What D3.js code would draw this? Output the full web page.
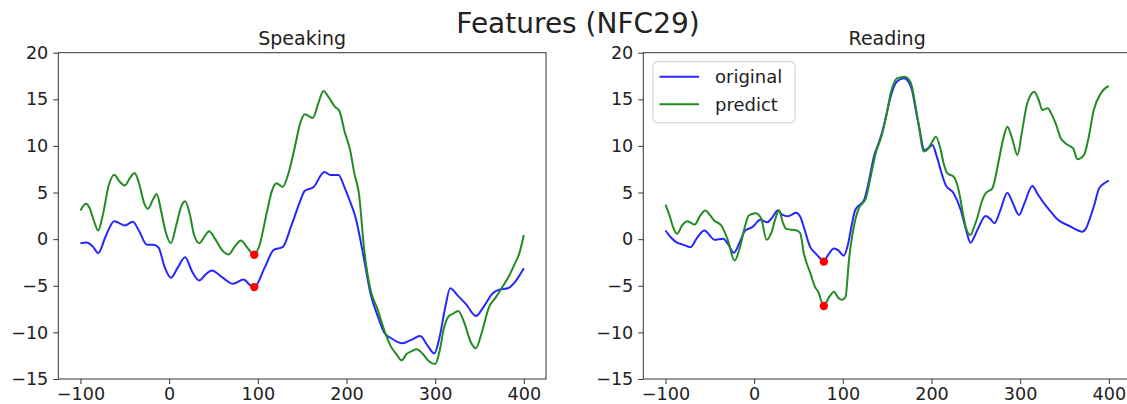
<!DOCTYPE html>
<html>
<head>
<meta charset="utf-8">
<script src="https://cdn.jsdelivr.net/npm/d3@7"></script>
<style>
  body { margin: 0; background: #fff; }
  svg text { font-family: "DejaVu Sans", sans-serif; fill: #222; }
</style>
</head>
<body>
<svg id="chart"></svg>
<script>
// values, [x, y]
const speakingOriginal = [
  [-100,-0.43],[-93,-0.36],[-86,-0.8],[-80,-1.5],[-72,0.2],[-62,1.93],[-56,1.7],[-50,1.46],
  [-41,1.86],[-34,0.9],[-25,-0.6],[-18,-0.6],[-12,-0.9],[-5,-3.0],[2,-4.14],[10,-3.0],
  [18,-1.93],[26,-3.5],[34,-4.43],[41,-3.8],[48,-3.36],[60,-4.1],[72,-4.79],[84,-4.32],
  [91,-4.9],[96,-5.14],[108,-3.0],[118,-1.14],[128,-0.86],[138,1.5],[148,4.14],[153,5.18],
  [163,5.6],[175,7.2],[182,6.88],[191,6.88],[198,5.5],[203,4.3],[210,2.4],[220,-2.24],
  [227,-5.8],[235,-8.2],[243,-10.1],[250,-10.6],[263,-11.17],[273,-10.8],[283,-10.4],
  [292,-11.5],[299,-12.25],[305,-10.5],[311,-7.5],[317,-5.27],[325,-6.0],[335,-7.0],
  [346,-8.24],[355,-7.2],[365,-5.8],[373,-5.4],[382,-5.27],[390,-4.6],[400,-3.13]
];
const speakingPredict = [
  [-100,3.07],[-94,3.8],[-90,3.4],[-85,2.0],[-80,0.93],[-75,2.5],[-68,5.8],[-62,6.9],
  [-56,6.2],[-50,5.75],[-44,6.6],[-39,7.1],[-34,6.0],[-28,3.8],[-24,3.25],[-18,4.3],
  [-14,4.85],[-9,3.0],[-4,0.8],[2,-0.43],[8,1.5],[14,3.6],[18,4.07],[23,2.8],[28,0.5],
  [34,-0.43],[40,0.3],[45,0.86],[52,0.0],[60,-1.2],[67,-1.64],[74,-0.8],[81,-0.14],
  [88,-0.9],[96,-1.68],[102,-0.6],[110,2.8],[116,5.2],[121,6.0],[128,5.6],[135,7.2],
  [142,10.0],[148,12.5],[153,13.4],[162,13.0],[168,14.5],[174,15.9],[180,15.2],[187,14.2],
  [192,13.75],[198,11.5],[204,9.6],[209,7.0],[214,4.9],[220,-1.16],[227,-5.4],[235,-7.5],
  [243,-9.9],[250,-11.5],[256,-12.3],[262,-13.0],[268,-12.3],[274,-12.0],[279,-11.8],
  [286,-12.3],[293,-13.1],[300,-13.4],[305,-12.0],[310,-9.5],[315,-8.3],[320,-8.0],
  [326,-7.7],[333,-9.0],[340,-11.0],[346,-11.7],[352,-10.2],[361,-7.24],[368,-6.3],
  [376,-5.1],[383,-4.0],[390,-2.6],[395,-1.5],[400,0.45]
];
const readingOriginal = [
  [-100,0.93],[-94,0.2],[-88,-0.32],[-80,-0.6],[-72,-0.86],[-64,0.2],[-56,0.93],[-50,0.4],
  [-45,-0.07],[-35,0.04],[-29,-0.6],[-23,-1.46],[-17,-0.5],[-10,0.93],[-2,1.29],[7,2.07],
  [15,1.82],[21,2.4],[26.5,3.07],[32,2.6],[38,2.46],[47,2.82],[52,2.41],[56,1.3],[63,-0.8],
  [70,-1.6],[78.6,-2.3],[84,-1.6],[90,-1.0],[95,-1.2],[101,-1.77],[106,-0.5],[110,1.5],
  [114,3.13],[124,4.2],[130,6.5],[135,8.85],[140,10.2],[144,11.35],[149,13.3],[154,15.3],
  [161,16.9],[169,17.25],[174,16.9],[178,16.0],[182,14.0],[186,12.07],[192,9.56],[197,9.8],
  [201,10.1],[206,8.85],[211,7.2],[216,5.8],[225,4.92],[233,3.13],[239,1.0],[244,-0.38],
  [249,0.4],[253.5,1.34],[261,2.48],[266,2.2],[271,1.7],[278,3.2],[285.5,4.99],[292,3.8],
  [298.7,2.59],[305,3.9],[313.7,5.7],[320,4.8],[327,3.84],[335,2.9],[342,2.13],[357,1.34],
  [365,0.95],[370,0.8],[374,1.1],[378,2.05],[384,3.8],[389,5.45],[395,6.0],[400,6.27]
];
const readingPredict = [
  [-100,3.71],[-96,2.71],[-91,1.2],[-87,0.57],[-81,1.5],[-75.5,1.93],[-67,1.57],[-61,2.5],
  [-55,3.07],[-50,2.6],[-45,2.0],[-37,1.46],[-30,0.0],[-22,-2.29],[-16,-0.86],[-10,1.5],
  [-6,2.54],[2,2.79],[8,2.2],[14,-0.07],[19.6,0.75],[24,2.2],[28,3.14],[32,1.9],[36,1.1],
  [48,0.93],[52,0.63],[56,-1.5],[63.5,-3.67],[69,-5.2],[72,-5.6],[78.6,-7.17],[84,-6.3],
  [90,-5.63],[95,-6.3],[99,-6.5],[103,-6.2],[107,-2.2],[114,2.05],[118,3.3],[126,4.38],
  [131,6.5],[137,9.2],[144,11.17],[149,13.2],[154,15.64],[161,17.25],[170,17.43],[174,17.2],
  [178,16.36],[182,14.3],[186,12.0],[191,9.4],[195,9.56],[200,10.3],[205,10.99],[210,9.74],
  [214,8.0],[218,7.06],[225,6.7],[231,5.1],[235,3.0],[238.5,1.34],[244,0.45],[248,1.3],
  [252,2.41],[256,3.8],[261,4.92],[268.6,5.45],[272,6.6],[276,8.49],[281,10.8],[285.5,12.07],
  [291,10.8],[297,9.03],[302,11.5],[308,14.57],[316,15.82],[321,14.9],[325,13.85],[331,14.03],
  [336,13.3],[340,12.42],[346,10.8],[351,10.3],[357,9.92],[360,9.7],[364.5,8.56],[372,9.03],
  [377,10.8],[383,13.85],[391,15.64],[396,16.2],[400,16.43]
];
const speakingMarks = [[96,-1.68],[96,-5.14]];
const readingMarks = [[78.6,-2.41],[78.6,-7.17]];

const xTicks = [-100, 0, 100, 200, 300, 400];
const yTicks = [-15, -10, -5, 0, 5, 10, 15, 20];
const seriesNames = ["original", "predict"];
const seriesColors = ["#2626ff", "#228b22"];

const W = 1127, H = 404;
const svg = d3.select("#chart").attr("width", W).attr("height", H);

class linePanel {
  constructor(svg, left, title) {
    this.left = left;
    this.top = 52.7;
    this.width = 487.7;
    this.height = 326.3;
    this.title = title;
    this.g = svg.append("g").attr("transform", `translate(${left}, ${this.top})`);
    this.x = d3.scaleLinear().domain([-125, 425]).range([0, this.width]);
    this.y = d3.scaleLinear().domain([-15, 20]).range([this.height, 0]);
  }

  draw(original, predict, marks, withLegend) {
    const g = this.g;
    const line = d3.line()
      .x(d => this.x(d[0]))
      .y(d => this.y(d[1]))
      .curve(d3.curveMonotoneX);

    [original, predict].forEach((s, i) => {
      g.append("path")
        .datum(s)
        .attr("fill", "none")
        .attr("stroke", seriesColors[i])
        .attr("stroke-width", 2)
        .attr("stroke-linejoin", "round")
        .attr("d", line);
    });

    g.selectAll(".mark").data(marks).enter().append("circle")
      .attr("class", "mark")
      .attr("cx", d => this.x(d[0]))
      .attr("cy", d => this.y(d[1]))
      .attr("r", 4.2)
      .attr("fill", "#ff0000");

    // frame
    g.append("rect")
      .attr("width", this.width).attr("height", this.height)
      .attr("fill", "none").attr("stroke", "#333").attr("stroke-width", 1);

    const xa = g.append("g").attr("transform", `translate(0, ${this.height})`)
      .call(d3.axisBottom(this.x).tickValues(xTicks).tickSize(5).tickPadding(3.5)
        .tickFormat(d => String(d).replace("-", "\u2212")));
    const ya = g.append("g")
      .call(d3.axisLeft(this.y).tickValues(yTicks).tickSize(5).tickPadding(5)
        .tickFormat(d => String(d).replace("-", "\u2212")));
    [xa, ya].forEach(a => {
      a.select(".domain").remove();
      a.selectAll("line").attr("stroke", "#333");
      a.selectAll("text").attr("font-size", 17.6).attr("fill", "#222")
        .style("font-family", "DejaVu Sans");
    });

    g.append("text")
      .attr("x", this.width / 2).attr("y", -7.5)
      .attr("text-anchor", "middle")
      .attr("font-size", 19)
      .text(this.title);

    if (withLegend) {
      const lg = g.append("g").attr("transform", `translate(${653 - this.left}, ${61.7 - this.top})`);
      lg.append("rect")
        .attr("width", 142).attr("height", 61).attr("rx", 4)
        .attr("fill", "#fff").attr("fill-opacity", 0.8)
        .attr("stroke", "#d0d0d0");
      seriesNames.forEach((name, i) => {
        const yy = 15 + i * 27.6;
        lg.append("line")
          .attr("x1", 6.5).attr("x2", 46).attr("y1", yy).attr("y2", yy)
          .attr("stroke", seriesColors[i]).attr("stroke-width", 2);
        lg.append("text")
          .attr("x", 62).attr("y", yy).attr("dy", "0.35em")
          .attr("font-size", 18)
          .text(name);
      });
    }
  }
}

new linePanel(svg, 58.3, "Speaking").draw(speakingOriginal, speakingPredict, speakingMarks, false);
new linePanel(svg, 643.3, "Reading").draw(readingOriginal, readingPredict, readingMarks, true);

svg.append("text")
  .attr("x", 578).attr("y", 33)
  .attr("text-anchor", "middle")
  .attr("font-size", 28)
  .text("Features (NFC29)");
</script>
</body>
</html>
